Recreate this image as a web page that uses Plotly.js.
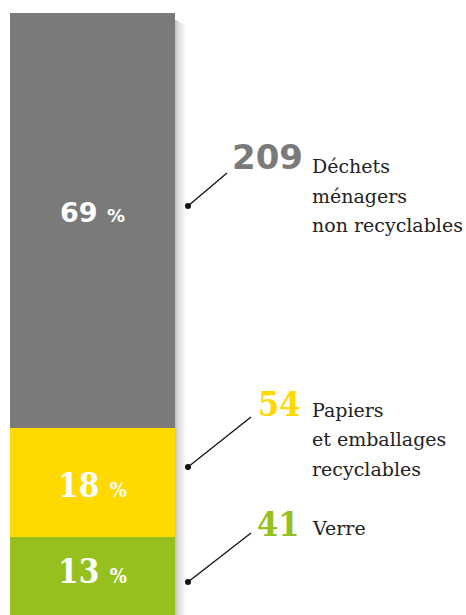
<!DOCTYPE html>
<html>
<head>
<meta charset="utf-8">
<script src="https://cdn.plot.ly/plotly-3.0.1.min.js"></script>
<style>html,body{margin:0;padding:0;background:#fff;}#chart{width:466px;height:615px;}</style>
</head>
<body>
<div id="chart"></div>
<script>
// Data
const categories = ["Verre", "Papiers<br>et emballages<br>recyclables", "Déchets<br>ménagers<br>non recyclables"];
const quantities = [41, 54, 209];
const percents = [13, 18, 69];
const colors = ["#95c01e", "#ffd900", "#7a7a7a"];

const W = 466, H = 615;
const L = 10, R = 291, T = 13, B = 0;
const pw = W - L - R, ph = H - T - B;
const px = x => (x - L) / pw;
const py = y => (H - B - y) / ph;

const traces = categories.map((c, i) => ({
  type: "bar", x: [0], y: [percents[i]], width: [1],
  marker: {color: colors[i], line: {width: 0}},
  hoverinfo: "none", showlegend: false
}));

// midpoints of stacked segments
let cum = 0;
const mids = percents.map(p => { const m = cum + p / 2; cum += p; return m; });

const slab = "DejaVu Serif Condensed, DejaVu Serif";
const annotations = [];
const shapes = [];
const pctFonts = [
  {family: slab, weight: 700, size: 33, small: 20},
  {family: slab, weight: 700, size: 33, small: 20},
  {family: "DejaVu Sans", weight: 700, size: 27, small: 18}
];
percents.forEach((p, i) => {
  const f = pctFonts[i];
  annotations.push({
    x: 0, y: mids[i], xref: "x", yref: "y", showarrow: false,
    text: p + ' <span style="font-size:' + f.small + 'px">%</span>',
    font: {family: f.family, size: f.size, color: "#ffffff", weight: f.weight},
    yshift: i === 2 ? 8 : (i === 1 ? -3 : 4)
  });
});

// callouts (pixel geometry)
const callouts = [
  {dot: [188, 582], end: [251, 533], numX: 302, numY: 524, base: 535},
  {dot: [188, 467], end: [251, 417], numX: 303, numY: 404, base: 416.7},
  {dot: [188, 206], end: [227, 173], numX: 305, numY: 157, base: 173}
];
const numFonts = [
  {family: slab, weight: 700, size: 34},
  {family: slab, weight: 700, size: 34},
  {family: "DejaVu Sans", weight: 700, size: 34}
];
const lineGap = 29.5;
callouts.forEach((c, i) => {
  shapes.push({type: "line", xref: "paper", yref: "paper",
    x0: px(c.dot[0]), y0: py(c.dot[1]), x1: px(c.end[0]), y1: py(c.end[1]),
    line: {color: "#111", width: 1.3}});
  shapes.push({type: "circle", xref: "paper", yref: "paper",
    x0: px(c.dot[0] - 3), y0: py(c.dot[1] - 3), x1: px(c.dot[0] + 3), y1: py(c.dot[1] + 3),
    fillcolor: "#111", line: {width: 0}});
  annotations.push({xref: "paper", yref: "paper", x: px(c.numX), y: py(c.numY),
    xanchor: "right", yanchor: "middle", showarrow: false,
    text: String(quantities[i]),
    font: {family: numFonts[i].family, size: numFonts[i].size, weight: numFonts[i].weight, color: colors[i]}});
  categories[i].split("<br>").forEach((ln, k) => {
    annotations.push({xref: "paper", yref: "paper", x: px(310), y: py(c.base - 20 + k * lineGap),
      xanchor: "left", yanchor: "top", align: "left", showarrow: false,
      text: ln,
      font: {family: "DejaVu Serif", size: 19, color: "#222"}});
  });
});

// soft shadow on the right of the bar
const shadeCols = ["#c4c4c4", "#d0d0d0", "#dcdcdc", "#e6e6e6", "#efefef", "#f7f7f7"];
shadeCols.forEach((col, k) => {
  shapes.push({type: "rect", xref: "paper", yref: "paper", layer: "below",
    x0: px(175 + k * 1.8), x1: px(175 + (k + 1) * 1.8), y0: py(615), y1: py(20 + k),
    fillcolor: col, line: {width: 0}});
});

const layout = {
  width: W, height: H,
  margin: {l: L, r: R, t: T, b: B, pad: 0},
  paper_bgcolor: "#ffffff", plot_bgcolor: "rgba(0,0,0,0)",
  barmode: "stack", bargap: 0,
  xaxis: {range: [-0.5, 0.5], visible: false, fixedrange: true},
  yaxis: {range: [0, 100], visible: false, fixedrange: true},
  annotations: annotations, shapes: shapes
};
Plotly.newPlot("chart", traces, layout, {displayModeBar: false, staticPlot: true});
</script>
</body>
</html>
